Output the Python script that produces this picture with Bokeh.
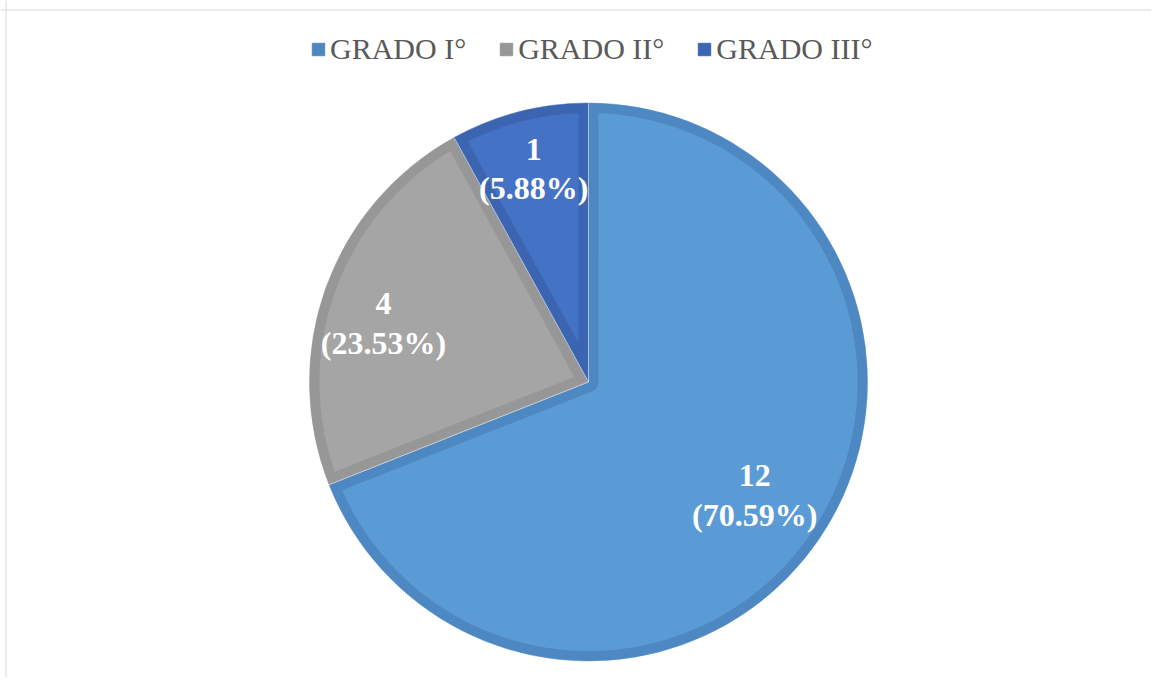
import numpy as np
from bokeh.plotting import figure
from bokeh.models import Range1d, Legend, LegendItem, Span, ColumnDataSource
from bokeh.core.properties import value
from bokeh.embed import file_html
from bokeh.resources import INLINE

# ---- data ----
categories = ["GRADO I°", "GRADO II°", "GRADO III°"]
counts = [12, 4, 1]
percent_labels = ["70.59%", "23.53%", "5.88%"]
# slice sizes as they are drawn in the picture (percent of the circle)
drawn_shares = [69.0, 23.0, 8.0]

# ---- style ----
fill_colors = ["#5B9BD5", "#A5A5A5", "#4472C4"]
band_colors = ["#4E88C2", "#979797", "#3C65B1"]
label_frac = [0.72, 0.765, 0.79]
label_shift_deg = [0.0, 3.7, 0.0]

W, H = 1151, 677
p = figure(width=W, height=H, output_backend="svg", toolbar_location=None,
           x_range=Range1d(0, W), y_range=Range1d(0, H),
           x_axis_type=None, y_axis_type=None, min_border=0)
p.grid.visible = False
p.outline_line_color = None
p.background_fill_color = "white"
p.border_fill_color = "white"

# chart-area border (top and left visible)
p.add_layout(Span(location=H - 9.5, dimension="width", line_color="#D9D9D9", line_width=1))
p.add_layout(Span(location=5.5, dimension="height", line_color="#D9D9D9", line_width=1))

cx, cy = 588.0, H - 381.5
R = 279.0
D = 10.0

theta = 2 * np.pi * np.array(drawn_shares) / sum(drawn_shares)
ends = np.pi / 2 - np.concatenate([[0.0], np.cumsum(theta)[:-1]])
starts = ends - theta

src = ColumnDataSource(dict(start=starts, end=ends, fill=fill_colors, band=band_colors, cat=categories))
outer = p.wedge(x=cx, y=cy, radius=R, start_angle="start", end_angle="end",
                fill_color="band", line_color="band", line_width=0.5, source=src)


def inset(a0, a1, d):
    th = a1 - a0
    Rp = R - d
    ph0 = a0 + np.arcsin(d / Rp)
    ph1 = a1 - np.arcsin(d / Rp)
    arc = np.linspace(ph0, ph1, 240)
    ax = cx + Rp * np.cos(arc)
    ay = cy + Rp * np.sin(arc)
    if th < np.pi:
        m = (a0 + a1) / 2
        k = d / np.sin(th / 2)
        px, py = cx + k * np.cos(m), cy + k * np.sin(m)
        xs = np.concatenate([[px], ax, [px]])
        ys = np.concatenate([[py], ay, [py]])
    else:
        small = np.linspace(a1 - np.pi / 2, a0 + np.pi / 2, 60)
        xs = np.concatenate([ax, cx + d * np.cos(small)])
        ys = np.concatenate([ay, cy + d * np.sin(small)])
    return list(xs), list(ys)


xs_list, ys_list = [], []
for a0, a1 in zip(starts, ends):
    xs, ys = inset(a0, a1, D)
    xs_list.append(xs)
    ys_list.append(ys)
p.patches(xs=xs_list, ys=ys_list, fill_color=fill_colors, line_color=None)

# thin light separators between slices
bx = cx + R * np.cos(ends)
by = cy + R * np.sin(ends)
p.segment(x0=[cx] * len(ends), y0=[cy] * len(ends), x1=bx, y1=by,
          line_color="#EEF3FA", line_alpha=0.6, line_width=1)

# data labels
mid = (starts + ends) / 2 + np.radians(label_shift_deg)
fr = np.array(label_frac)
lx = cx + fr * R * np.cos(mid)
ly = cy + fr * R * np.sin(mid)
texts = [f"{c}\n({pc})" for c, pc in zip(counts, percent_labels)]
p.text(x=lx, y=ly, text=texts, text_align="center", text_baseline="middle",
       text_font=value("Liberation Serif"), text_font_style="bold",
       text_font_size="32px", text_color="white", text_line_height=1.1)

legend = Legend(items=[LegendItem(label=c, renderers=[outer], index=i) for i, c in enumerate(categories)],
                orientation="horizontal", location=(310, H - 66),
                label_text_font="'Liberation Serif', 'Times New Roman', serif",
                label_text_font_size="30px",
                label_text_color="#595959", glyph_width=16, glyph_height=16,
                label_standoff=4, spacing=32, padding=0, margin=0,
                border_line_color=None, background_fill_alpha=0)
p.add_layout(legend)

open("out.html", "w").write(file_html(p, INLINE))
